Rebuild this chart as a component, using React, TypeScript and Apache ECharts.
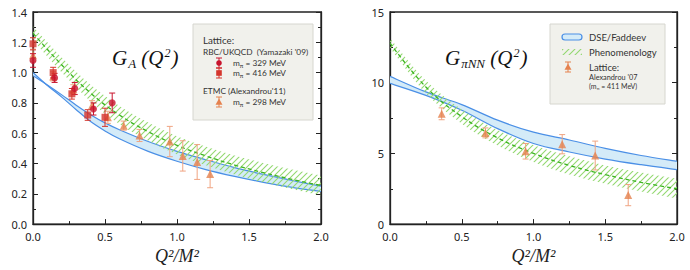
import React, { useEffect, useRef } from "react";
import * as echarts from "echarts";

// ---------- Left panel: G_A(Q^2) ----------
// DSE/Faddeev band: the two edges cross near Q^2 ~ 0.15
const blueAX = [0, 0.1, 0.2, 0.3, 0.4, 0.5, 0.6, 0.8, 1.0, 1.2, 1.4, 1.6, 1.8, 2.0];
const blueAEdge1 = [1.0, 0.915, 0.838, 0.755, 0.677, 0.615, 0.563, 0.48, 0.415, 0.36, 0.315, 0.276, 0.243, 0.215];
const blueAEdge2 = [0.98, 0.918, 0.853, 0.785, 0.722, 0.668, 0.623, 0.545, 0.48, 0.425, 0.373, 0.328, 0.288, 0.25];

const greenAX = [0, 0.2, 0.4, 0.6, 0.8, 1.0, 1.2, 1.4, 1.6, 1.8, 2.0];
const greenAMid = [1.26, 1.05, 0.865, 0.72, 0.61, 0.52, 0.45, 0.39, 0.34, 0.295, 0.255];
const greenAUp = [1.305, 1.1, 0.92, 0.78, 0.67, 0.58, 0.512, 0.453, 0.404, 0.36, 0.32];
const greenALo = [1.215, 1.0, 0.81, 0.66, 0.55, 0.46, 0.388, 0.327, 0.276, 0.23, 0.19];

const circX = [0.0, 0.15, 0.29, 0.42, 0.55];
const circY = [1.08, 0.965, 0.895, 0.76, 0.8];
const circErr = [0.045, 0.03, 0.04, 0.04, 0.065];

const sqX = [0.0, 0.14, 0.27, 0.38, 0.5];
const sqY = [1.19, 1.0, 0.86, 0.72, 0.705];
const sqErr = [0.04, 0.035, 0.035, 0.035, 0.06];

const triAX = [0.0, 0.14, 0.28, 0.41, 0.52, 0.63, 0.74, 0.95, 1.04, 1.14, 1.23];
const triAY = [1.115, 0.975, 0.89, 0.785, 0.705, 0.65, 0.585, 0.545, 0.45, 0.41, 0.33];
const triAErr = [0.04, 0.03, 0.03, 0.03, 0.04, 0.03, 0.04, 0.1, 0.1, 0.115, 0.09];

// ---------- Right panel: G_piNN(Q^2) ----------
const blueBX = [0, 0.25, 0.5, 0.75, 1.0, 1.25, 1.5, 1.75, 2.0];
const blueBEdge1 = [10.45, 9.35, 8.45, 7.35, 6.5, 5.95, 5.35, 4.85, 4.45];
const blueBEdge2 = [9.95, 9.1, 8.05, 6.75, 5.7, 5.1, 4.6, 4.2, 3.85];

const greenBX = [0, 0.25, 0.5, 0.75, 1.0, 1.25, 1.5, 1.75, 2.0];
const greenBMid = [12.8, 9.7, 7.6, 6.1, 5.0, 4.15, 3.5, 2.95, 2.5];
const greenBUp = [13.15, 10.15, 8.1, 6.65, 5.6, 4.8, 4.15, 3.65, 3.2];
const greenBLo = [12.45, 9.25, 7.1, 5.55, 4.4, 3.5, 2.85, 2.3, 1.8];

const triBX = [0.36, 0.665, 0.945, 1.2, 1.43, 1.66];
const triBY = [7.8, 6.45, 5.15, 5.65, 4.85, 2.05];
const triBErr = [0.42, 0.35, 0.55, 0.68, 1.02, 0.75];

const xTicks = [0, 0.5, 1.0, 1.5, 2.0];

const BLUE = "#4a8fe6";
const BLUE_FILL = "#d4ebf8";
const GREEN = "#3cb521";
const HATCH = "#93d870";
const RED_C = "#c8142e";
const RED_S = "#d5352c";
const ORANGE = "#e5824f";
const ORANGE_ERR = "#f0a482";

const hatchUrl =
  "data:image/svg+xml;charset=utf-8," +
  encodeURIComponent(
    `<svg xmlns="http://www.w3.org/2000/svg" width="6" height="6"><path d="M-1 7 L7 -1 M-1 1 L1 -1 M5 7 L7 5" stroke="${HATCH}" stroke-width="1.1"/></svg>`
  );
const hatchPattern: any = { image: hatchUrl, repeat: "repeat", imageWidth: 6, imageHeight: 6 };

const zip = (xs: number[], ys: number[]) => xs.map((x, i) => [x, ys[i]]);
const errData = (xs: number[], ys: number[], es: number[]) => xs.map((x, i) => [x, ys[i] - es[i], ys[i] + es[i]]);

// Catmull-Rom -> cubic bezier path through pixel points
function smoothPath(pts: number[][], move: boolean) {
  const f = (v: number) => v.toFixed(2);
  let d = (move ? "M" : "L") + f(pts[0][0]) + " " + f(pts[0][1]);
  for (let i = 0; i < pts.length - 1; i++) {
    const p0 = pts[i - 1] || pts[i];
    const p1 = pts[i];
    const p2 = pts[i + 1];
    const p3 = pts[i + 2] || p2;
    const c1x = p1[0] + (p2[0] - p0[0]) / 6;
    const c1y = p1[1] + (p2[1] - p0[1]) / 6;
    const c2x = p2[0] - (p3[0] - p1[0]) / 6;
    const c2y = p2[1] - (p3[1] - p1[1]) / 6;
    d += ` C${f(c1x)} ${f(c1y)} ${f(c2x)} ${f(c2y)} ${f(p2[0])} ${f(p2[1])}`;
  }
  return d;
}

function bandSeries(grid: number, xs: number[], up: number[], lo: number[], kind: "blue" | "green", z: number) {
  return {
    type: "custom",
    xAxisIndex: grid,
    yAxisIndex: grid * 2,
    z,
    silent: true,
    clip: true,
    encode: { x: 0, y: [1, 2] },
    data: xs.map((x, i) => [x, lo[i], up[i]]),
    renderItem: (params: any, api: any) => {
      if (params.dataIndex !== 0) return null;
      const U = xs.map((x, i) => api.coord([x, up[i]]));
      const L = xs.map((x, i) => api.coord([x, lo[i]]));
      const fillD = smoothPath(U, true) + " " + smoothPath([...L].reverse(), false) + " Z";
      const children: any[] = [
        { type: "path", shape: { pathData: fillD }, style: { fill: kind === "blue" ? BLUE_FILL : hatchPattern, stroke: null } },
      ];
      if (kind === "blue") {
        children.push({ type: "path", shape: { pathData: smoothPath(U, true) }, style: { fill: null, stroke: BLUE, lineWidth: 1.2 } });
        children.push({ type: "path", shape: { pathData: smoothPath(L, true) }, style: { fill: null, stroke: BLUE, lineWidth: 1.2 } });
      }
      return { type: "group", children };
    },
  };
}

function errSeries(grid: number, data: number[][], color: string, z = 5) {
  return {
    type: "custom",
    xAxisIndex: grid,
    yAxisIndex: grid * 2,
    z,
    encode: { x: 0, y: [1, 2] },
    data,
    renderItem: (params: any, api: any) => {
      const x = api.value(0);
      const p1 = api.coord([x, api.value(2)]);
      const p2 = api.coord([x, api.value(1)]);
      const w = 3;
      const st = { stroke: color, lineWidth: 1 };
      return {
        type: "group",
        children: [
          { type: "line", shape: { x1: p1[0], y1: p1[1], x2: p2[0], y2: p2[1] }, style: st },
          { type: "line", shape: { x1: p1[0] - w, y1: p1[1], x2: p1[0] + w, y2: p1[1] }, style: st },
          { type: "line", shape: { x1: p2[0] - w, y1: p2[1], x2: p2[0] + w, y2: p2[1] }, style: st },
        ],
      };
    },
  };
}

const axisTextStyle = { fontFamily: "Noto Sans", fontSize: 11, color: "#222" };
const lineColor = "#222";

function xAxisDef(grid: number) {
  return {
    type: "value",
    gridIndex: grid,
    min: 0,
    max: 2,
    interval: 0.5,
    axisLine: { show: true, onZero: false, lineStyle: { color: lineColor, width: 1.3 } },
    axisTick: { inside: true, length: 5, lineStyle: { color: lineColor } },
    minorTick: { show: true, splitNumber: 2, length: 3, lineStyle: { color: lineColor } },
    splitLine: { show: false },
    axisLabel: { ...axisTextStyle, margin: 7, formatter: (v: number) => (xTicks.includes(v) ? v.toFixed(1) : "") },
    name: "Q²/M²",
    nameLocation: "middle",
    nameGap: 21,
    nameTextStyle: { fontFamily: "Liberation Serif", fontStyle: "italic", fontSize: 18, color: "#222" },
  };
}

function yAxisDef(grid: number, max: number, interval: number, right: boolean, fmt: (v: number) => string) {
  return {
    type: "value",
    gridIndex: grid,
    position: right ? "right" : "left",
    min: 0,
    max,
    interval,
    axisLine: { show: true, lineStyle: { color: lineColor, width: 1.3 } },
    axisTick: { inside: true, length: 5, lineStyle: { color: lineColor } },
    minorTick: { show: true, splitNumber: 2, length: 3, lineStyle: { color: lineColor } },
    splitLine: { show: false },
    axisLabel: right ? { show: false } : { ...axisTextStyle, margin: 6, formatter: fmt },
  };
}

function withZ(el: any, z: number): any {
  const out = { ...el, z };
  if (el.children) out.children = el.children.map((c: any) => withZ(c, z));
  return out;
}

function legendErrSym(cx: number, cy: number, color: string, shape: "circle" | "square" | "tri") {
  const st = { stroke: color, lineWidth: 1 };
  const children: any[] = [
    { type: "line", shape: { x1: cx, y1: cy - 5, x2: cx, y2: cy + 5 }, style: st },
    { type: "line", shape: { x1: cx - 3, y1: cy - 5, x2: cx + 3, y2: cy - 5 }, style: st },
    { type: "line", shape: { x1: cx - 3, y1: cy + 5, x2: cx + 3, y2: cy + 5 }, style: st },
  ];
  if (shape === "circle") children.push({ type: "circle", shape: { cx, cy, r: 2.8 }, style: { fill: color } });
  else if (shape === "square") children.push({ type: "rect", shape: { x: cx - 2.8, y: cy - 2.8, width: 5.6, height: 5.6 }, style: { fill: color } });
  else children.push({ type: "polygon", shape: { points: [[cx, cy - 3.5], [cx + 3.5, cy + 2.8], [cx - 3.5, cy + 2.8]] }, style: { fill: color } });
  return { type: "group", children };
}

const legFont = "Lato";
function legText(x: number, y: number, text: string, size = 9, rich?: any) {
  return {
    type: "text",
    x,
    y,
    style: { text, fontFamily: legFont, fontSize: size, fill: "#333", verticalAlign: "middle", align: "left", rich },
  };
}
const mRich = (size: number) => ({
  a: { fontFamily: legFont, fontSize: size, fill: "#333" },
  s: { fontFamily: legFont, fontSize: size - 2.5, fill: "#333", padding: [4, 0, 0, 0] },
});

function titleText(x: number, y: number, sub: string) {
  return {
    type: "text",
    x,
    y,
    z: 50,
    style: {
      text: `{g|G}{s|${sub}}{g| (Q}{p|2}{g|)}`,
      verticalAlign: "middle",
      align: "left",
      rich: {
        g: { fontFamily: "Liberation Serif", fontStyle: "italic", fontSize: 21, fill: "#111", lineHeight: 26, verticalAlign: "middle" },
        s: { fontFamily: "Liberation Serif", fontStyle: "italic", fontSize: 13, fill: "#111", lineHeight: 26, padding: [11, 0, 0, 1] },
        p: { fontFamily: "Liberation Serif", fontStyle: "italic", fontSize: 12, fill: "#111", lineHeight: 26, padding: [0, 1, 11, 1] },
      },
    },
  };
}

export default function App() {
  const ref = useRef<HTMLDivElement>(null);
  useEffect(() => {
    if (!ref.current) return;
    const chart = echarts.init(ref.current, undefined, { renderer: "svg" });
    const leftLegend = {
      type: "group",
      children: [
        { type: "rect", shape: { x: 193, y: 24, width: 120, height: 96 }, style: { fill: "#f1f1ec", stroke: "#d6d6cf", lineWidth: 1 } },
        legText(203, 40, "Lattice:", 9.8),
        legText(203, 52, "RBC/UKQCD  (Yamazaki '09)", 8.3),
        legendErrSym(219, 63, RED_C, "circle"),
        legText(233, 63, "{a|m}{s|π}{a| = 329 MeV}", 8.3, mRich(8.3)),
        legendErrSym(219, 73, RED_S, "square"),
        legText(233, 73, "{a|m}{s|π}{a| = 416 MeV}", 8.3, mRich(8.3)),
        legText(203, 91, "ETMC (Alexandrou'11)", 8.3),
        legendErrSym(219, 102, ORANGE, "tri"),
        legText(233, 102, "{a|m}{s|π}{a| = 298 MeV}", 8.3, mRich(8.3)),
      ],
    };
    const rightLegend = {
      type: "group",
      children: [
        { type: "rect", shape: { x: 550, y: 24, width: 115, height: 80 }, style: { fill: "#f1f1ec", stroke: "#d6d6cf", lineWidth: 1 } },
        { type: "rect", shape: { x: 562, y: 34, width: 20, height: 6, r: 3 }, style: { fill: BLUE_FILL, stroke: BLUE, lineWidth: 1.2 } },
        legText(589, 37, "DSE/Faddeev", 9.5),
        { type: "rect", shape: { x: 562, y: 49, width: 20, height: 6 }, style: { fill: hatchPattern } },
        legText(589, 52, "Phenomenology", 9.5),
        legendErrSym(568, 67, ORANGE, "tri"),
        legText(589, 67, "Lattice:", 9.5),
        legText(589, 77, "Alexandrou '07", 7.3),
        legText(589, 86, "({a|m}{s|π}{a| = 411 MeV)}", 7, mRich(7)),
      ],
    };
    const option: any = {
      animation: false,
      backgroundColor: "#fff",
      grid: [
        { left: 33, top: 12, width: 288, height: 214, show: true, borderColor: lineColor, borderWidth: 1.3, backgroundColor: "transparent" },
        { left: 390, top: 12, width: 287, height: 214, show: true, borderColor: lineColor, borderWidth: 1.3, backgroundColor: "transparent" },
      ],
      xAxis: [xAxisDef(0), xAxisDef(1)],
      yAxis: [
        yAxisDef(0, 1.4, 0.2, false, (v) => v.toFixed(1)),
        yAxisDef(0, 1.4, 0.2, true, (v) => v.toFixed(1)),
        yAxisDef(1, 15, 5, false, (v) => String(v)),
        yAxisDef(1, 15, 5, true, (v) => String(v)),
      ],
      series: [
        // left bands
        bandSeries(0, blueAX, blueAEdge2, blueAEdge1, "blue", 2),
        bandSeries(0, greenAX, greenAUp, greenALo, "green", 3),
        {
          type: "line", xAxisIndex: 0, yAxisIndex: 0, z: 4, smooth: 0.4, symbol: "none",
          data: zip(greenAX, greenAMid), lineStyle: { color: GREEN, width: 1.3, type: [4, 3] },
        },
        errSeries(0, errData(triAX, triAY, triAErr), ORANGE_ERR, 5),
        { type: "scatter", xAxisIndex: 0, yAxisIndex: 0, z: 6, symbol: "triangle", symbolSize: 8, itemStyle: { color: ORANGE }, data: zip(triAX, triAY) },
        errSeries(0, errData(sqX, sqY, sqErr), RED_S, 7),
        { type: "scatter", xAxisIndex: 0, yAxisIndex: 0, z: 8, symbol: "rect", symbolSize: 7, itemStyle: { color: RED_S }, data: zip(sqX, sqY) },
        errSeries(0, errData(circX, circY, circErr), RED_C, 7),
        { type: "scatter", xAxisIndex: 0, yAxisIndex: 0, z: 8, symbol: "circle", symbolSize: 7, itemStyle: { color: RED_C }, data: zip(circX, circY) },
        // right bands
        bandSeries(1, blueBX, blueBEdge1, blueBEdge2, "blue", 2),
        bandSeries(1, greenBX, greenBUp, greenBLo, "green", 3),
        {
          type: "line", xAxisIndex: 1, yAxisIndex: 2, z: 4, smooth: 0.4, symbol: "none",
          data: zip(greenBX, greenBMid), lineStyle: { color: GREEN, width: 1.3, type: [4, 3] },
        },
        errSeries(1, errData(triBX, triBY, triBErr), ORANGE_ERR, 5),
        { type: "scatter", xAxisIndex: 1, yAxisIndex: 2, z: 6, symbol: "triangle", symbolSize: 8, itemStyle: { color: ORANGE }, data: zip(triBX, triBY) },
      ],
      graphic: [
        titleText(112, 58, "A"),
        titleText(445, 58, "πNN"),
        withZ(leftLegend, 100),
        withZ(rightLegend, 100),
      ],
    };
    chart.setOption(option);
    return () => chart.dispose();
  }, []);
  return <div ref={ref} style={{ position: "fixed", left: 0, top: 0, width: 690, height: 270 }} />;
}
